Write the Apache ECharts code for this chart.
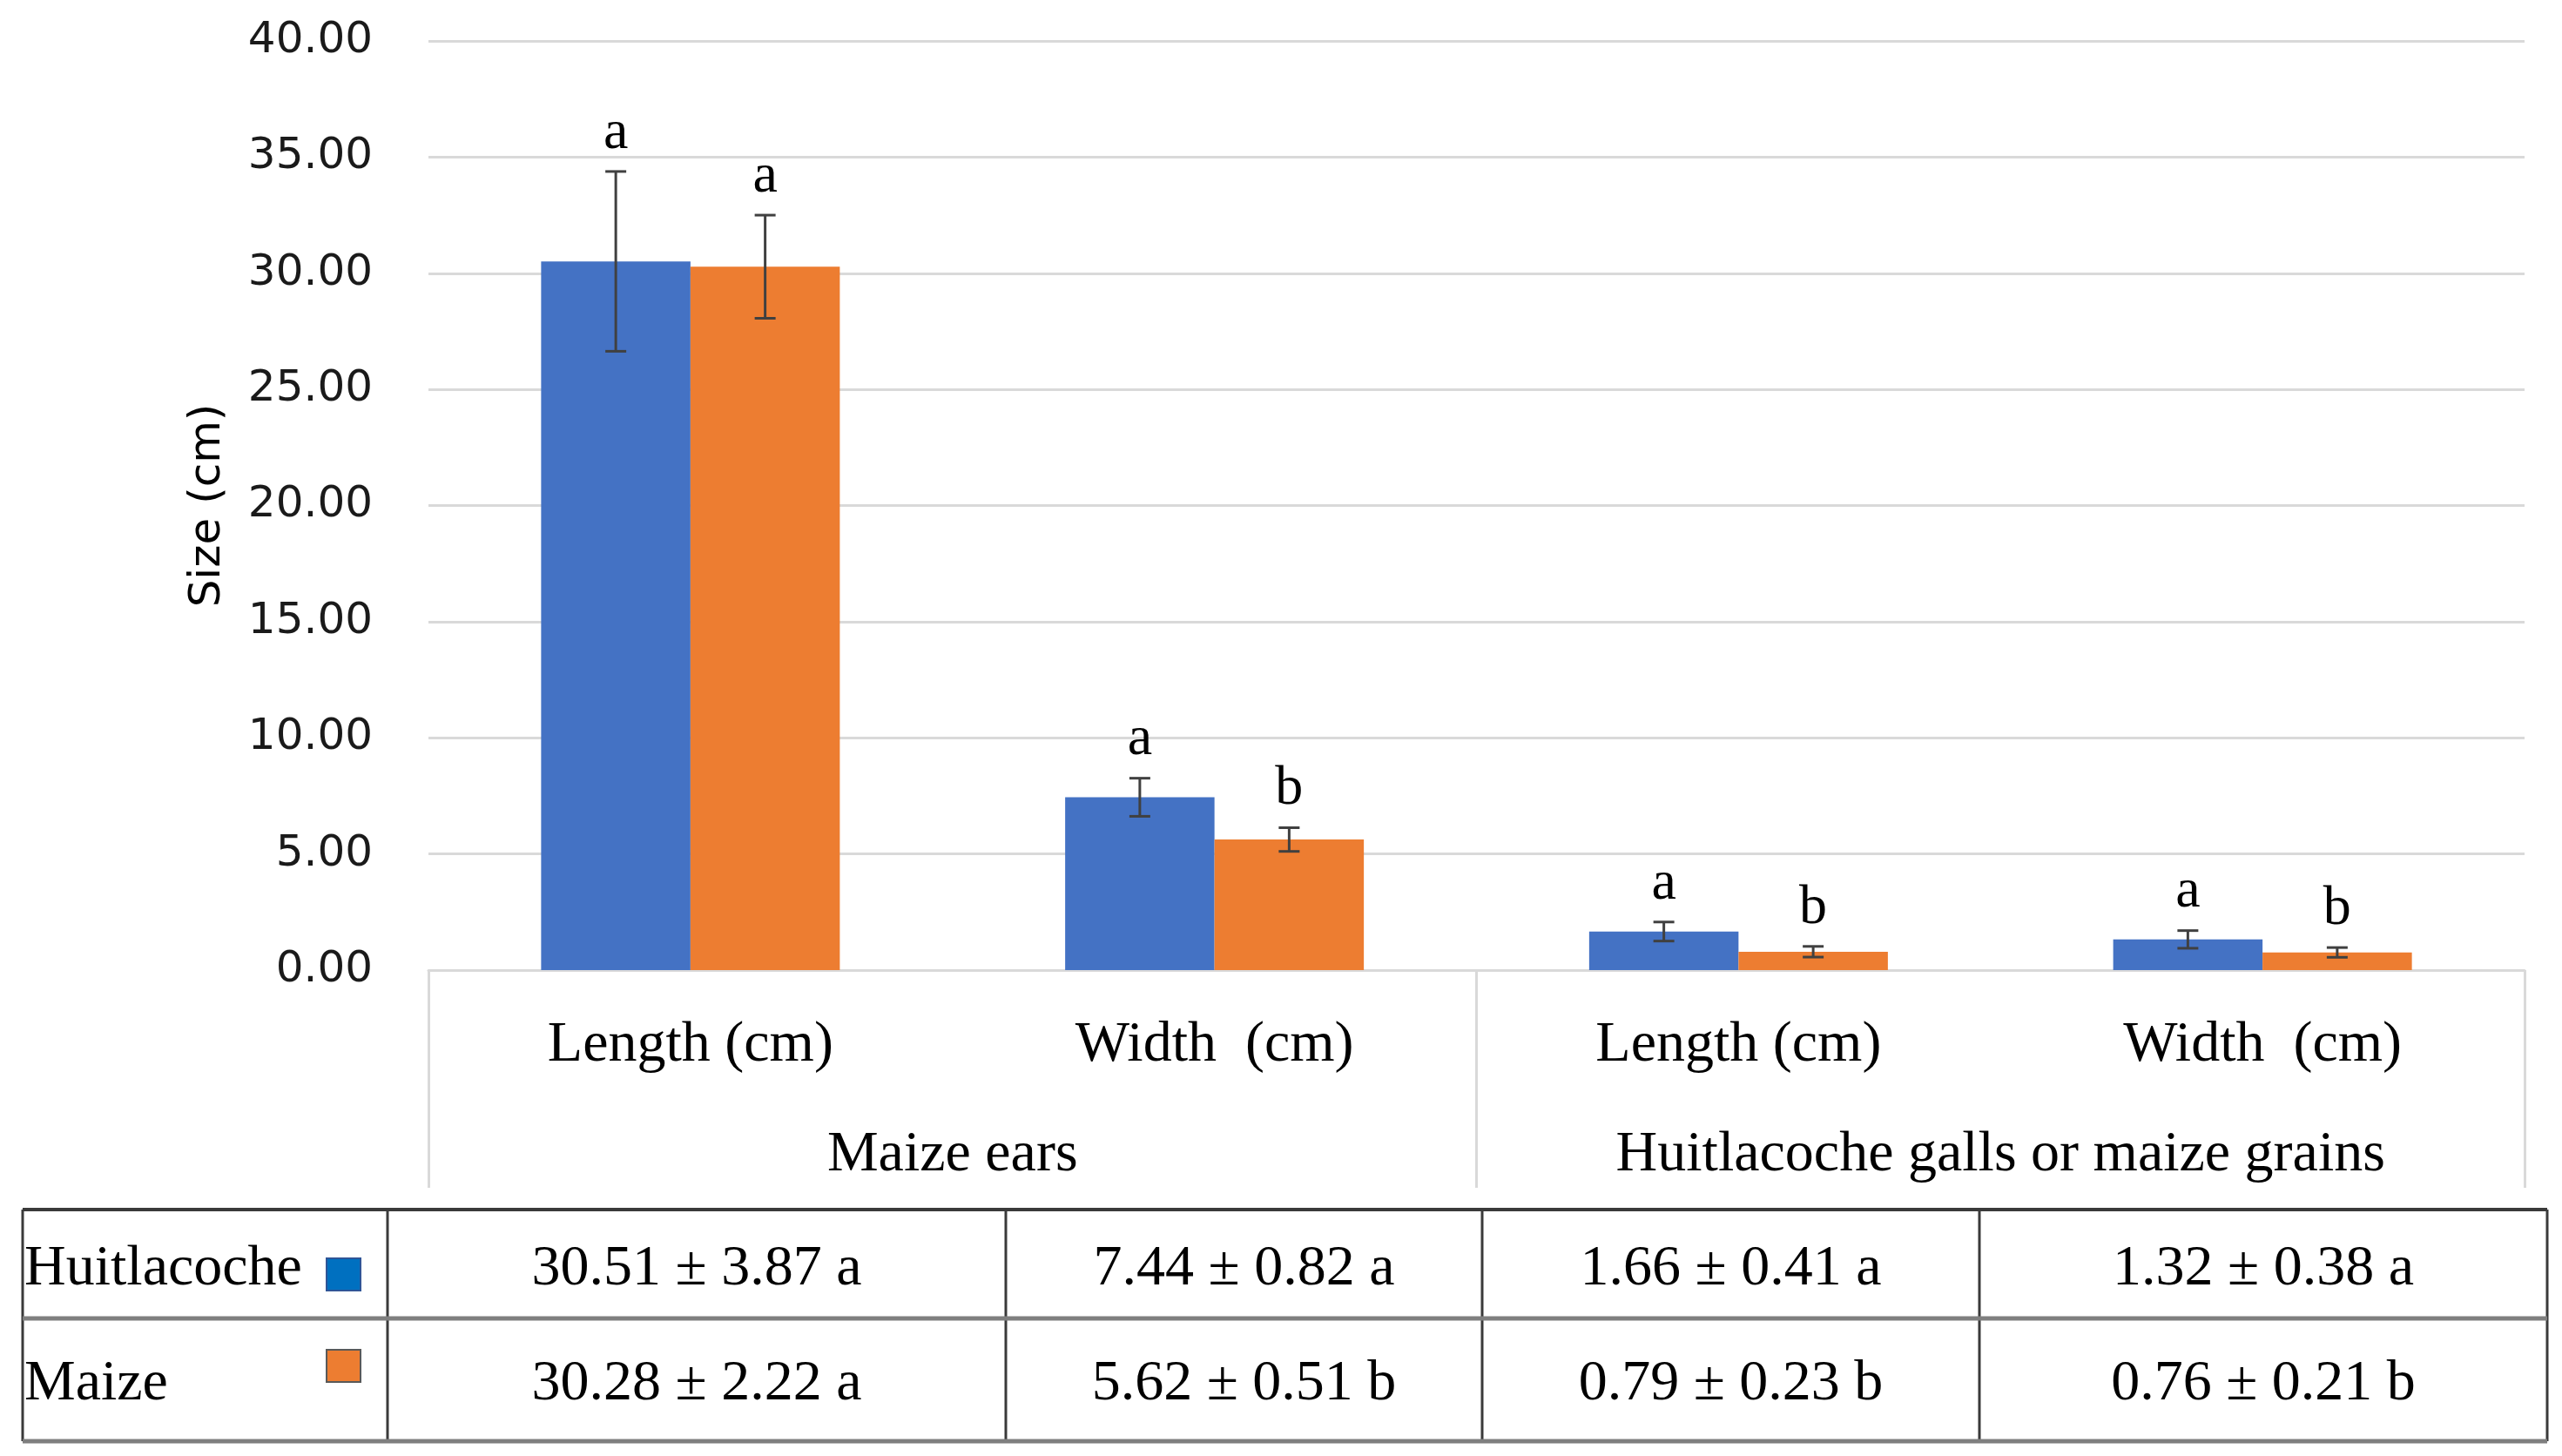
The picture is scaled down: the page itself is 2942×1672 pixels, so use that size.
<!DOCTYPE html>
<html>
<head>
<meta charset="utf-8">
<script src="https://cdn.jsdelivr.net/npm/echarts@6/dist/echarts.min.js"></script>
<style>
html,body{margin:0;padding:0;background:#fff;}
#chart{width:2942px;height:1672px;}
</style>
</head>
<body>
<div id="chart"></div>
<script>
// ---- data ----
const categories = ['Length (cm)', 'Width  (cm)', 'Length (cm)', 'Width  (cm)'];
const groups = ['Maize ears', 'Huitlacoche galls or maize grains'];
const seriesNames = ['Huitlacoche', 'Maize'];
const huitMean = [30.51, 7.44, 1.66, 1.32];
const huitSD = [3.87, 0.82, 0.41, 0.38];
const huitLetters = ['a', 'a', 'a', 'a'];
const maizeMean = [30.28, 5.62, 0.79, 0.76];
const maizeSD = [2.22, 0.51, 0.23, 0.21];
const maizeLetters = ['a', 'b', 'b', 'b'];
const yTicks = { min: 0, max: 40, interval: 5 };

// ---- style / layout ----
const BLUE = '#4472C4', ORANGE = '#ED7D31';
const SERIF = '"Liberation Serif", "DejaVu Serif", serif';
const SANS = '"DejaVu Sans", sans-serif';
const CAT_GAP = 0.43;
const tableCols = [26, 445, 1155, 1702, 2273, 2925];
const tableRows = [1389, 1514, 1655];

const chart = echarts.init(document.getElementById('chart'));

function errSeries(name, means, sds, letters, sign, color) {
  return {
    name: name + ' error',
    type: 'custom',
    xAxisIndex: 0,
    yAxisIndex: 0,
    z: 5,
    data: means.map((m, i) => [i, m - sds[i], m + sds[i], i]),
    renderItem: function (params, api) {
      const xi = api.value(0);
      const lo = api.coord([xi, api.value(1)]);
      const hi = api.coord([xi, api.value(2)]);
      const band = api.size([1, 0])[0];
      const barW = band * (1 - CAT_GAP) / 2;
      const x = lo[0] + sign * barW / 2;
      const cap = 12;
      const st = { stroke: '#404040', lineWidth: 3 };
      return {
        type: 'group',
        children: [
          { type: 'line', shape: { x1: x, y1: lo[1], x2: x, y2: hi[1] }, style: st },
          { type: 'line', shape: { x1: x - cap, y1: lo[1], x2: x + cap, y2: lo[1] }, style: st },
          { type: 'line', shape: { x1: x - cap, y1: hi[1], x2: x + cap, y2: hi[1] }, style: st },
          { type: 'text', style: { x: x, y: hi[1] - 12, text: letters[api.value(3)], textAlign: 'center', textVerticalAlign: 'bottom', font: '64px ' + SERIF, fill: '#000' } }
        ]
      };
    }
  };
}

// ---- table graphics ----
const graphics = [];
function hline(y, color, w) {
  graphics.push({ type: 'line', shape: { x1: tableCols[0], y1: y, x2: tableCols[tableCols.length - 1], y2: y }, style: { stroke: color, lineWidth: w }, z: 10 });
}
tableCols.forEach(x => {
  graphics.push({ type: 'line', shape: { x1: x, y1: tableRows[0], x2: x, y2: tableRows[2] }, style: { stroke: '#3a3a3a', lineWidth: 3 }, z: 10 });
});
hline(tableRows[0], '#3a3a3a', 4);
hline(tableRows[1], '#7f7f7f', 5);
hline(tableRows[2], '#7f7f7f', 5);

const rowsData = [
  { name: seriesNames[0], means: huitMean, sds: huitSD, letters: huitLetters, color: '#0070C0', border: '#2F5597', textDy: 6, boxY: 1445 },
  { name: seriesNames[1], means: maizeMean, sds: maizeSD, letters: maizeLetters, color: ORANGE, border: '#595959', textDy: 5, boxY: 1550 }
];
rowsData.forEach((r, ri) => {
  const cy = (tableRows[ri] + tableRows[ri + 1]) / 2;
  graphics.push({ type: 'text', style: { x: tableCols[0] + 2, y: cy + r.textDy, text: r.name, textAlign: 'left', textVerticalAlign: 'middle', font: '66px ' + SERIF, fill: '#000' }, z: 11 });
  graphics.push({ type: 'rect', shape: { x: 375, y: r.boxY, width: 39, height: 37 }, style: { fill: r.color, stroke: r.border, lineWidth: 2 }, z: 11 });
  r.means.forEach((m, i) => {
    const cx = (tableCols[i + 1] + tableCols[i + 2]) / 2;
    const txt = m.toFixed(2) + ' \u00B1 ' + r.sds[i].toFixed(2) + ' ' + r.letters[i];
    graphics.push({ type: 'text', style: { x: cx, y: cy + r.textDy, text: txt, textAlign: 'center', textVerticalAlign: 'middle', font: '66px ' + SERIF, fill: '#000' }, z: 11 });
  });
});

const option = {
  backgroundColor: '#fff',
  animation: false,
  grid: { left: 492, right: 43, top: 47, bottom: 558, containLabel: false },
  xAxis: [
    {
      type: 'category',
      data: categories,
      position: 'bottom',
      axisLine: { lineStyle: { color: '#d9d9d9', width: 3 } },
      axisTick: { show: false },
      axisLabel: { fontFamily: SERIF, fontSize: 66, color: '#000', margin: 52, lineHeight: 70 }
    },
    {
      type: 'category',
      data: groups,
      position: 'bottom',
      axisLine: { show: false },
      axisTick: { show: true, length: 250, lineStyle: { color: '#d9d9d9', width: 3 } },
      axisLabel: { fontFamily: SERIF, fontSize: 66, color: '#000', margin: 178, lineHeight: 70 },
      splitLine: { show: false }
    }
  ],
  yAxis: {
    type: 'value',
    min: yTicks.min,
    max: yTicks.max,
    interval: yTicks.interval,
    name: 'Size (cm)',
    nameLocation: 'middle',
    nameRotate: 90,
    nameGap: 228,
    nameTextStyle: { fontFamily: SANS, fontSize: 50, color: '#000' },
    axisLine: { show: false },
    axisTick: { show: false },
    axisLabel: { fontFamily: SANS, fontSize: 50, color: '#1a1a1a', margin: 64, formatter: v => v.toFixed(2) },
    splitLine: { lineStyle: { color: '#d9d9d9', width: 3 } }
  },
  series: [
    { name: seriesNames[0], type: 'bar', xAxisIndex: 0, data: huitMean, itemStyle: { color: BLUE }, barGap: '0%', barCategoryGap: (CAT_GAP * 100) + '%' },
    { name: seriesNames[1], type: 'bar', xAxisIndex: 0, data: maizeMean, itemStyle: { color: ORANGE }, barGap: '0%', barCategoryGap: (CAT_GAP * 100) + '%' },
    errSeries(seriesNames[0], huitMean, huitSD, huitLetters, -1, BLUE),
    errSeries(seriesNames[1], maizeMean, maizeSD, maizeLetters, 1, ORANGE)
  ],
  graphic: graphics
};
chart.setOption(option);
</script>
</body>
</html>
